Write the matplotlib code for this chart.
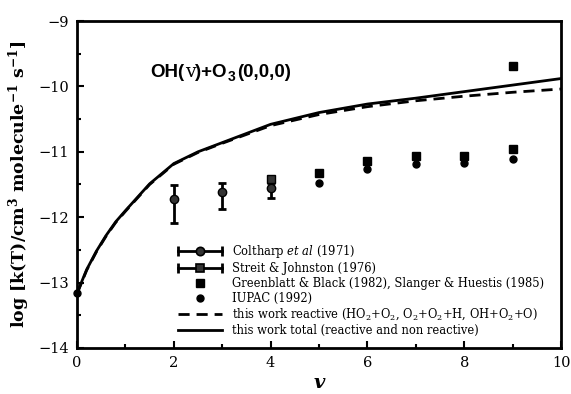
import matplotlib
matplotlib.use("Agg")
import matplotlib.pyplot as plt
from matplotlib.lines import Line2D
from matplotlib.legend_handler import HandlerBase
import numpy as np

plt.rcParams["mathtext.fontset"] = "dejavuserif"

# ---- data ----
v_curve = [0, 0.1, 0.2, 0.4, 0.6, 0.8, 1.0, 1.5, 2, 2.5, 3, 4, 5, 6, 7, 8, 9, 10]
total = [-13.17, -12.98, -12.80, -12.52, -12.28, -12.07, -11.90, -11.49, -11.18,
         -11.00, -10.86, -10.58, -10.40, -10.27, -10.18, -10.08, -9.98, -9.88]
reactive = [-13.17, -12.99, -12.81, -12.53, -12.29, -12.08, -11.91, -11.50, -11.19,
            -11.01, -10.87, -10.60, -10.43, -10.31, -10.22, -10.15, -10.09, -10.04]

colt_v = [2, 3, 4]
colt_k = [-11.72, -11.62, -11.55]
colt_lo = [0.37, 0.26, 0.15]
colt_hi = [0.21, 0.15, 0.15]

streit_v = [4]
streit_k = [-11.42]
streit_err = [0.05]

green_v = [5, 6, 7, 8, 9, 9]
green_k = [-11.33, -11.14, -11.07, -11.06, -10.95, -9.69]

iupac_v = [0, 5, 6, 7, 8, 9]
iupac_k = [-13.16, -11.47, -11.27, -11.18, -11.17, -11.11]

xticks = [0, 2, 4, 6, 8, 10]
yticks = [-14, -13, -12, -11, -10, -9]

serif = ["DejaVu Serif"]


class HandlerErrH(HandlerBase):
    def __init__(self, marker):
        super().__init__()
        self.marker = marker

    def create_artists(self, legend, orig_handle, xdescent, ydescent, width, height,
                       fontsize, trans):
        y = height / 2 - ydescent
        x0, x1 = -xdescent, width - xdescent
        line = Line2D([x0, x1], [y, y], color="black", lw=2)
        caps = Line2D([x0, x1], [y, y], ls="none", marker="|", ms=7, mew=2, color="black")
        m = Line2D([(x0 + x1) / 2], [y], ls="none", marker=self.marker, ms=6,
                   mfc="#333333", mec="black", mew=1.2)
        arts = [line, caps, m]
        for a in arts:
            a.set_transform(trans)
        return arts


fig = plt.figure(figsize=(5.71, 3.94), dpi=100)
ax = fig.add_axes([0.1349, 0.1168, 0.8476, 0.8299])

h_reac, = ax.plot(v_curve, reactive, color="black", lw=2.0, ls=(0, (4, 2.5)),
                  label="this work reactive (HO$_2$+O$_2$, O$_2$+O$_2$+H, OH+O$_2$+O)", zorder=3)
h_tot, = ax.plot(v_curve, total, color="black", lw=2.0,
                 label="this work total (reactive and non reactive)", zorder=3)

h_colt = ax.errorbar(colt_v, colt_k, yerr=[colt_lo, colt_hi], fmt="o", color="black",
                     mfc="#333333", mec="black", ms=6, elinewidth=2, capsize=3, capthick=2,
                     label="Coltharp $\\mathit{et\\ al}$ (1971)", zorder=4)
h_streit = ax.errorbar(streit_v, streit_k, yerr=streit_err, fmt="s", color="black",
                       mfc="#333333", mec="black", ms=6, elinewidth=2, capsize=3, capthick=2,
                       label="Streit & Johnston (1976)", zorder=4)
h_green, = ax.plot(green_v, green_k, "s", color="black", ms=6, ls="none",
                   label="Greenblatt & Black (1982), Slanger & Huestis (1985)", zorder=4)
h_iupac, = ax.plot(iupac_v, iupac_k, "o", color="black", ms=5, ls="none",
                   label="IUPAC (1992)", zorder=5, clip_on=False)

ax.set_xlim(0, 10)
ax.set_ylim(-14, -9)
ax.set_xticks(xticks)
ax.set_yticks(yticks)
ax.set_xticks(np.arange(1, 10, 2), minor=True)
ax.set_yticks(np.arange(-13.5, -9, 1), minor=True)
ax.tick_params(which="both", direction="in", top=False, right=False, width=1.5)
ax.tick_params(which="major", length=5, labelsize=10.5, pad=6)
ax.tick_params(which="minor", length=3)
ax.yaxis.set_major_formatter(matplotlib.ticker.FuncFormatter(
    lambda y, p: f"\u2212{abs(int(y))}" if y < 0 else f"{int(y)}"))
for lab in ax.get_xticklabels() + ax.get_yticklabels():
    lab.set_family(serif)
for s in ax.spines.values():
    s.set_linewidth(2)

ax.set_xlabel("v", fontsize=14, fontweight="bold", style="italic", family=serif, labelpad=3)
ax.set_ylabel("log [k(T)/cm$^{\\mathbf{3}}$ molecule$^{\\mathbf{-1}}$ s$^{\\mathbf{-1}}$]",
              fontsize=12.5, fontweight="bold", family=serif, labelpad=4)

# title: OH(v)+O3(0,0,0)
fig.canvas.draw()
r = fig.canvas.get_renderer()
t1 = ax.text(1.52, -9.78, "OH(", fontsize=13.5, fontweight="bold", family="Liberation Sans",
             va="center", ha="left")
bb = t1.get_window_extent(r)
yc = bb.y0 + bb.height / 2
t2 = ax.annotate("v", xy=(bb.x1, yc), xycoords="figure pixels",
                 fontsize=13.5, family=serif, va="center", ha="left")
bb2 = t2.get_window_extent(r)
t3 = ax.annotate(")+O", xy=(bb2.x1, yc), xycoords="figure pixels",
                 fontsize=13.5, fontweight="bold", family="Liberation Sans", va="center", ha="left")
bb3 = t3.get_window_extent(r)
t4 = ax.annotate("3", xy=(bb3.x1 + 0.5, yc - 5), xycoords="figure pixels",
                 fontsize=10, fontweight="bold", family="Liberation Sans", va="center", ha="left")
bb4 = t4.get_window_extent(r)
ax.annotate("(0,0,0)", xy=(bb4.x1 + 2, yc), xycoords="figure pixels",
            fontsize=13.5, fontweight="bold", family="Liberation Sans", va="center", ha="left")

handles = [h_colt, h_streit, h_green, h_iupac, h_reac, h_tot]
leg = ax.legend(handles=handles, loc="lower left", bbox_to_anchor=(0.2087, 0.035),
                frameon=False, prop={"family": serif, "size": 8.3},
                handlelength=3.8, handletextpad=0.87, labelspacing=0.15,
                borderaxespad=0.0, borderpad=0.0, numpoints=1,
                handler_map={h_colt: HandlerErrH("o"), h_streit: HandlerErrH("s")})

fig.savefig("out.png", dpi=100)
